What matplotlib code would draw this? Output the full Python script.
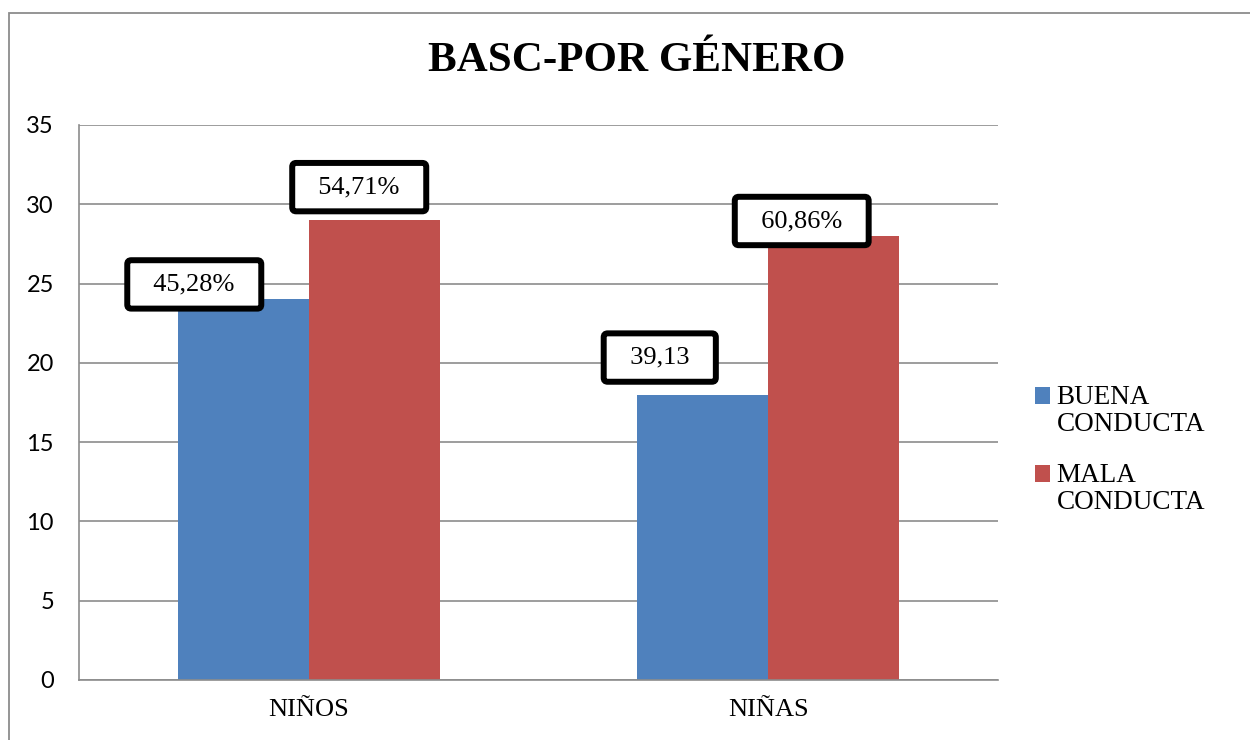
import matplotlib
matplotlib.use("Agg")
import matplotlib.pyplot as plt
from matplotlib.patches import Rectangle
import numpy as np

# data
categories = ["NIÑOS", "NIÑAS"]
series_names = ["BUENA\nCONDUCTA", "MALA\nCONDUCTA"]
buena = [24, 18]
mala = [29, 28]
buena_labels = ["45,28%", "39,13"]
mala_labels = ["54,71%", "60,86%"]

BLUE = "#4F81BD"
RED = "#C0504D"
GRID = "#8C8C8C"

fig = plt.figure(figsize=(12.5, 7.4), dpi=100)
ax = fig.add_axes([0.0632, 0.0811, 0.7352, 0.75])

x = np.arange(len(categories))
w = 0.285
b1 = ax.bar(x - w / 2, buena, w, color=BLUE, label=series_names[0], zorder=2)
b2 = ax.bar(x + w / 2, mala, w, color=RED, label=series_names[1], zorder=2)

ax.set_xlim(-0.5, 1.5)
ax.set_ylim(0, 35)
ax.set_yticks(range(0, 36, 5))
ax.set_xticks(x)
ax.set_xticklabels(categories, family="Liberation Serif", fontsize=19)
for t in ax.get_yticklabels():
    t.set_family("Lato")
    t.set_fontsize(17)
ax.tick_params(axis="both", length=0)
ax.tick_params(axis="y", pad=18)
ax.tick_params(axis="x", pad=14)
ax.yaxis.grid(True, color=GRID, lw=1.2, zorder=0)
ax.set_axisbelow(True)
for s in ["top", "right"]:
    ax.spines[s].set_visible(False)
for s in ["left", "bottom"]:
    ax.spines[s].set_color(GRID)
    ax.spines[s].set_linewidth(1.2)

# value boxes, offsets in pixels from the bar top
offsets_b = [(-49, 15), (-43, 37)]
offsets_m = [(-15, 33), (-32, 15)]
box = dict(boxstyle="round,pad=0.5,rounding_size=0.15", fc="white", ec="black", lw=4.3)
for rects, labs, offs in [(b1, buena_labels, offsets_b), (b2, mala_labels, offsets_m)]:
    for r, lab, off in zip(rects, labs, offs):
        ax.annotate("  " + lab + "  ", (r.get_x() + r.get_width() / 2, r.get_height()),
                    xytext=off, textcoords="offset pixels", ha="center", va="center",
                    family="Liberation Serif", fontsize=19, bbox=box, zorder=5)

fig.text(0.509, 0.917, "BASC-POR GÉNERO", ha="center", va="center",
         family="Liberation Serif", fontweight="bold", fontsize=31)

fs_leg = 19.5
leg = fig.legend(handles=[b1, b2], loc="upper left", bbox_to_anchor=(1035 / 1250, 1 - 385 / 740),
                 frameon=False, borderpad=0, borderaxespad=0,
                 prop={"family": "Liberation Serif", "size": fs_leg},
                 handlelength=0.55, handleheight=0.55, handletextpad=0.25, labelspacing=0.95)
for t in leg.get_texts():
    t.set_linespacing(1.12)
for h in leg.legend_handles:
    h.set_y(h.get_y() + 0.58 * fs_leg)

# outer chart border
fig.patches.append(Rectangle((9 / 1250, -0.1), 1.2, 0.9824 + 0.1, transform=fig.transFigure,
                             fill=False, ec=GRID, lw=1.3))

fig.savefig("out.png", dpi=100)
